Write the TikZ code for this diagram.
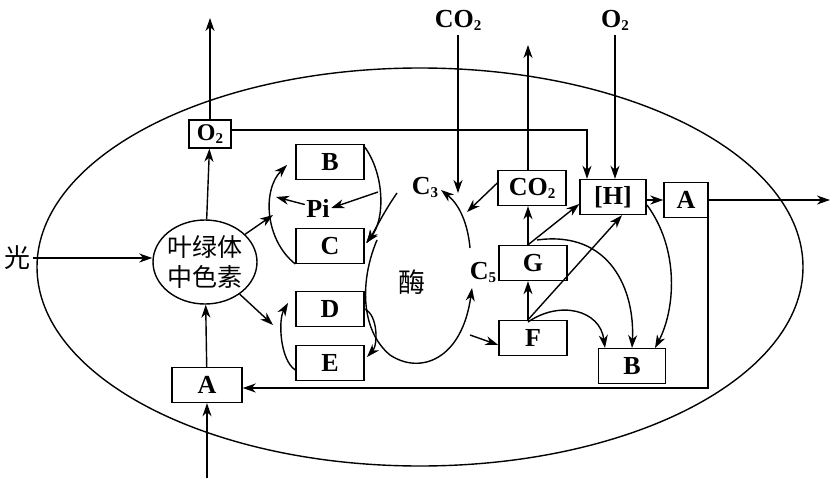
\documentclass[tikz,border=0pt]{standalone}
\usepackage{fontspec}
\setmainfont{Liberation Serif}
\newfontfamily\cjk{Noto Sans CJK SC}
\usetikzlibrary{arrows.meta,shapes.geometric}
\newcommand{\sbs}[1]{\raisebox{-0.25ex}{\fontsize{15}{15}\selectfont #1}}
\begin{document}
\begin{tikzpicture}[x=1pt,y=-1pt,line width=1.4pt,
  bx/.style={draw,minimum width=#1,minimum height=35pt,inner sep=0pt,font=\fontsize{26}{26}\selectfont\bfseries},
  bx/.default=68pt,
  lb/.style={font=\fontsize{26}{26}\selectfont\bfseries,inner sep=1pt},
  ar/.style={-{Stealth[length=13pt,width=9pt,inset=4pt]}}]
\useasboundingbox (0,0) rectangle (835,495);
\draw (420,267) ellipse [x radius=383, y radius=199];
\node[bx=42pt,minimum height=28pt,font=\fontsize{24}{24}\selectfont\bfseries] (o2) at (210,134) {O\sbs{2}};
\node[draw,ellipse,minimum width=104pt,minimum height=84pt,inner sep=-2pt,align=center,font=\fontsize{25}{30}\selectfont\cjk] (pg) at (205,262) {叶绿体\\中色素};
\node[font=\fontsize{26}{26}\selectfont\cjk,inner sep=1pt] (light) at (18,258) {光};
\node[bx=70pt] (A1) at (207,385) {A};
\node[bx] (B1) at (330,162) {B};
\node[bx] (C1) at (330,246) {C};
\node[bx] (D1) at (330,309) {D};
\node[bx] (E1) at (330,363) {E};
\node[lb] (pi) at (318,208) {Pi};
\node[lb] (c3) at (425,187) {C\sbs{3}};
\node[lb] (c5) at (483,272) {C\sbs{5}};
\node[font=\fontsize{27}{27}\selectfont\cjk,inner sep=1pt] (enz) at (412,282) {酶};
\node[bx] (F) at (533,338) {F};
\node[bx] (G) at (533,263) {G};
\node[bx] (co2b) at (532,188) {CO\sbs{2}};
\node[bx=66pt] (H) at (613,197) {[H]};
\node[bx=44pt] (A2) at (686,200) {A};
\node[bx=67pt] (B2) at (632,366) {B};
\node[lb] (co2t) at (458,20) {CO\sbs{2}};
\node[lb] (o2t) at (615,20) {O\sbs{2}};
\coordinate (o2up) at (210,18);
\coordinate (co2up) at (528,45);
\coordinate (aout) at (830,200);
\coordinate (abot) at (207,478);
% arrows
\draw[ar] (o2) -- (o2up);
\draw[ar] (pg) -- (o2);
\draw[ar] (light.east) -- (pg.west|-light.east);
\draw[ar] (abot) -- (A1);
\draw[ar] (A1) -- (pg);
\draw[ar] (o2.east|-0,130) -- (587,130) -- (H.north-|587,0);
\draw[ar] (pg) -- (273,215);
\draw[ar] (pg) -- (273,325);
\draw[ar] (C1.west) ++(0,18) .. controls (265,240) and (262,190) .. (287,165);
\draw[ar] (pi) -- (276,197);
\draw[ar] (B1.east) ++(0,-15) .. controls (385,175) and (385,220) .. (366,243);
\draw[ar] (397,193) .. controls (385,210) and (375,230) .. (367,243);
\draw[ar] (378,192) -- (pi.east);
\draw[ar] (D1.east) .. controls (378,315) and (378,345) .. (367,357);
\draw[ar] (E1.west) ++(0,7) .. controls (280,360) and (278,320) .. (288,303);
% enzyme loop
\draw[ar] (377,240) .. controls (360,280) and (360,330) .. (390,355) .. controls (420,375) and (462,360) .. (472,288);
\draw[ar] (470,248) .. controls (468,225) and (460,205) .. (441,190);
\draw[ar] (470,335) -- (F.west|-0,345);
\draw[ar] (co2t) ++(0,15) -- (458,193);
\draw[ar] (co2b.west) ++(0,-5) -- (467,212);
\draw[ar] (co2b.north-|528,0) -- (co2up);
\draw[ar] (o2t) ++(0,15) -- (H.north-|615,0);
\draw[ar] (G.north-|528,0) -- (co2b.south-|528,0);
\draw[ar] (F.north-|528,0) -- (G.south-|528,0);
\draw[ar] (G.north-|528,0) -- (H.west|-0,204);
\draw[ar] (F.north-|528,0) -- (H.south-|622,0);
\draw[ar] (537,240) .. controls (610,230) and (635,290) .. (632,348);
\draw[ar] (528,322) .. controls (560,300) and (600,310) .. (605,348);
\draw[ar] (H.east|-0,200) -- (A2.west);
\draw[ar] (647,205) .. controls (680,250) and (675,310) .. (655,348);
\draw[ar] (A2.east) -- (aout);
\draw[ar] (708,218) -- (708,388) -- (A1.east|-0,388);
\end{tikzpicture}
\end{document}
